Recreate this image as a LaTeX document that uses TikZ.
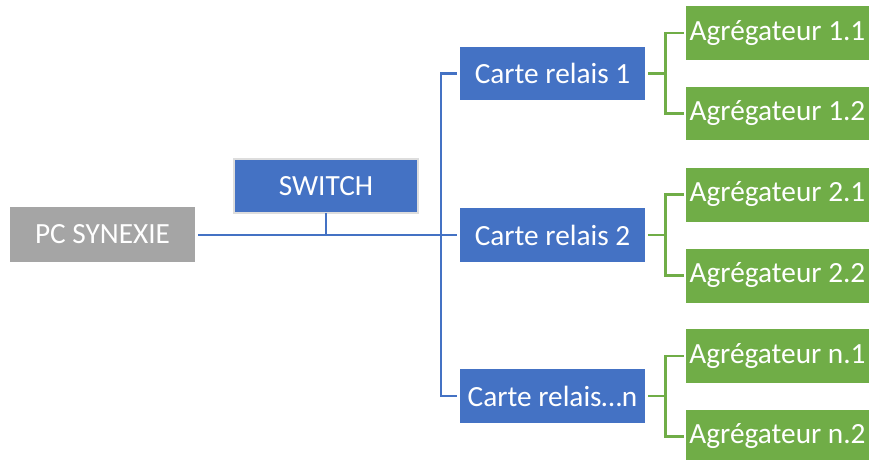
\documentclass[tikz,border=0pt]{standalone}
\usepackage{fontspec}
\setmainfont{Carlito}
\definecolor{bblue}{HTML}{4472C4}
\definecolor{ggreen}{HTML}{70AD47}
\definecolor{ggray}{HTML}{A5A5A5}
\definecolor{lgray}{HTML}{DDDDDD}
\begin{document}
\begin{tikzpicture}[x=1pt,y=-1pt,
  box/.style={rectangle, inner sep=0pt, text=white, font=\fontsize{29.3}{34}\selectfont},
  bluebox/.style={box, fill=bblue, minimum width=185pt, minimum height=54pt},
  greenbox/.style={box, fill=ggreen, minimum width=183pt, minimum height=54pt},
  graybox/.style={box, fill=ggray, minimum width=185pt, minimum height=55pt},
  bline/.style={draw=bblue, line width=2.6pt},
  gline/.style={draw=ggreen, line width=2.6pt}]
\useasboundingbox (0,0) rectangle (870,460);
\node[graybox] (pc) at (102.5,234.5) {PC SYNEXIE};
\node[bluebox, minimum width=184pt, minimum height=54pt, draw=lgray, line width=2pt] (sw) at (326,186) {SWITCH};
\node[bluebox, minimum height=53pt] (c1) at (552.5,73.5) {Carte relais 1};
\node[bluebox] (c2) at (552.5,235) {Carte relais 2};
\node[bluebox] (cn) at (552.5,396) {Carte relais\ldots n};
\node[greenbox] (a11) at (777.5,33) {Agrégateur 1.1};
\node[greenbox, minimum height=53pt] (a12) at (777.5,113.5) {Agrégateur 1.2};
\node[greenbox] (a21) at (777.5,194.5) {Agrégateur 2.1};
\node[greenbox] (a22) at (777.5,275.5) {Agrégateur 2.2};
\node[greenbox] (an1) at (777.5,356) {Agrégateur n.1};
\node[greenbox] (an2) at (777.5,436.5) {Agrégateur n.2};
% blue connectors
\draw[bline] ([xshift=3pt]pc.east |- c2.west) -- ([xshift=-3pt]c2.west);
\draw[bline] ([yshift=1pt]sw.south) -- (sw.south |- c2.west);
\coordinate (bus1) at ([xshift=-19pt]c1.west);
\draw[bline] ([xshift=-3pt]c1.west) -- (bus1) |- ([xshift=-3pt]cn.west);
% green connectors
\foreach \c/\u/\d in {c1/a11/a12, c2/a21/a22, cn/an1/an2}{
  \coordinate (j) at ([xshift=20pt]\c.east);
  \draw[gline] ([xshift=3pt]\c.east) -- (j);
  \draw[gline] ([xshift=-2pt]\u.west) -| (j) |- ([xshift=-2pt]\d.west);
}
\end{tikzpicture}
\end{document}
